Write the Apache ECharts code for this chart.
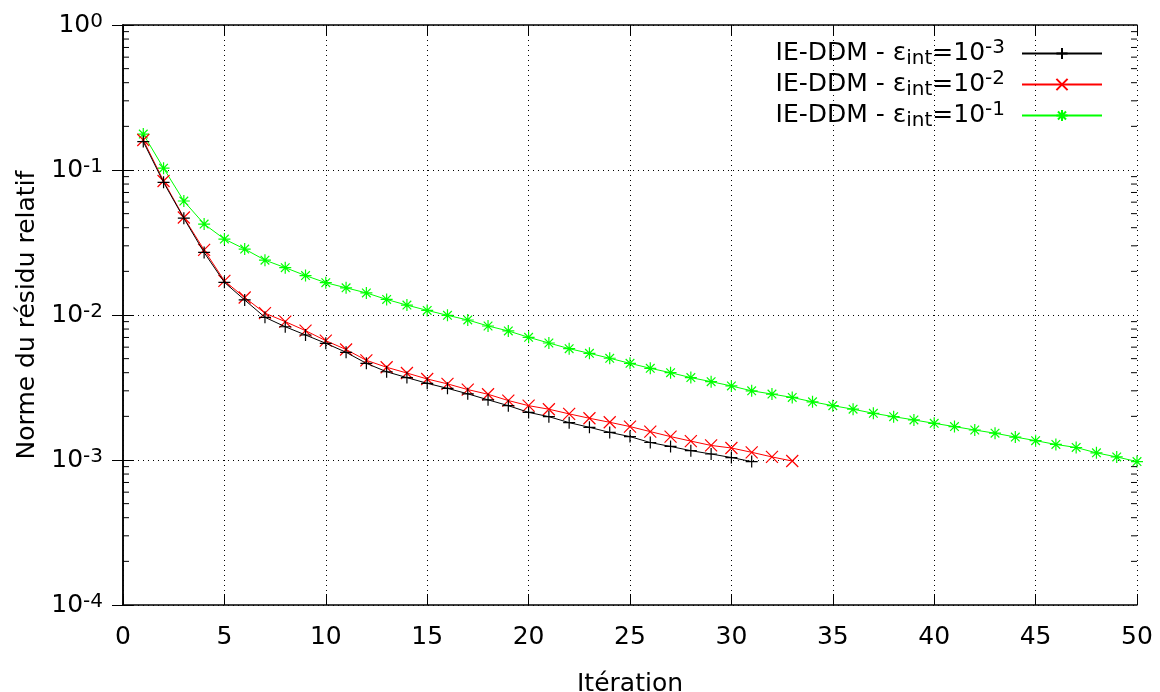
<!DOCTYPE html>
<html>
<head>
<meta charset="utf-8">
<script src="https://cdn.jsdelivr.net/npm/echarts@6/dist/echarts.min.js"></script>
<style>
html,body{margin:0;padding:0;background:#fff;}
#chart{width:1160px;height:692px;}
</style>
</head>
<body>
<div id="chart"></div>
<script>
// ---- data ----
const seriesNames = ['eps3', 'eps2', 'eps1'];
const seriesExp = ['-3', '-2', '-1'];
const seriesColors = ['#000000', '#ff0000', '#00ff00'];

const resEps3 = [0.157, 0.0822, 0.0465, 0.0270, 0.0168, 0.0127, 0.00964, 0.0083, 0.00728, 0.00638,
  0.00553, 0.00464, 0.00406, 0.0037, 0.00338, 0.00312, 0.00286, 0.00260, 0.00237, 0.00213,
  0.00199, 0.00181, 0.00168, 0.00155, 0.00145, 0.00132, 0.00124, 0.00116, 0.0011, 0.00104, 0.000975];

const resEps2 = [0.161, 0.084, 0.0470, 0.0281, 0.0172, 0.0132, 0.0103, 0.0090, 0.0078, 0.00665,
  0.00578, 0.00487, 0.00436, 0.00398, 0.00362, 0.00335, 0.00306, 0.00284, 0.00257, 0.00237,
  0.00224, 0.00208, 0.00194, 0.00182, 0.0017, 0.00157, 0.00145, 0.00135, 0.00126, 0.00121,
  0.00113, 0.00105, 0.000984];

const resEps1 = [0.177, 0.103, 0.0611, 0.0424, 0.0334, 0.0285, 0.0239, 0.0212, 0.0187, 0.0167,
  0.0154, 0.0142, 0.0128, 0.0117, 0.01076, 0.00995, 0.00924, 0.0084, 0.00776, 0.00702,
  0.00641, 0.00586, 0.00544, 0.00503, 0.00464, 0.00429, 0.0040, 0.0037, 0.00347, 0.00324,
  0.0030, 0.00285, 0.0027, 0.00252, 0.00237, 0.00224, 0.0021, 0.00199, 0.00189, 0.00179,
  0.0017, 0.00161, 0.00153, 0.00144, 0.00136, 0.00128, 0.00122, 0.00112, 0.00105, 0.000975];

const xTicks = [0, 5, 10, 15, 20, 25, 30, 35, 40, 45, 50];
const yDecades = [-4, -3, -2, -1, 0];
const minorMultipliers = [2, 3, 4, 5, 6, 7, 8, 9];

const xTitle = 'Itération';
const yTitle = 'Norme du résidu relatif';
// ---- end data ----

const FONT = 'DejaVu Sans';
const symPlus = 'path://M0,-1L0,1M-1,0L1,0';
const symCross = 'path://M-1,-1L1,1M-1,1L1,-1';
const symStar = 'path://M0,-1L0,1M-1,0L1,0M-0.72,-0.72L0.72,0.72M-0.72,0.72L0.72,-0.72';
const symbols = [symPlus, symCross, symStar];
const allData = [resEps3, resEps2, resEps1];

const minorTicks = [];
yDecades.slice(0, -1).forEach(d => minorMultipliers.forEach(m => minorTicks.push([0, m * Math.pow(10, d)])));

const xMin = xTicks[0], xMax = xTicks[xTicks.length - 1];
const yMin = Math.pow(10, yDecades[0]), yMax = Math.pow(10, yDecades[yDecades.length - 1]);

const chart = echarts.init(document.getElementById('chart'), null, {renderer: 'canvas'});

const axisLineStyle = {show: true, lineStyle: {color: '#000', width: 1.5}};
const yRich = {
  b: {fontFamily: FONT, fontSize: 25, color: '#000', lineHeight: 30},
  s: {fontFamily: FONT, fontSize: 20, color: '#000', lineHeight: 22, verticalAlign: 'top', padding: [2, 0, 0, 0]}
};

const series = allData.map((arr, i) => ({
  name: seriesNames[i],
  type: 'line',
  data: arr.map((v, k) => [k + 1, v]),
  xAxisIndex: 0, yAxisIndex: 0,
  symbol: symbols[i],
  symbolSize: 12,
  showAllSymbol: true,
  lineStyle: {color: seriesColors[i], width: 1},
  itemStyle: {color: seriesColors[i], borderColor: seriesColors[i], borderWidth: 1.2},
  emphasis: {disabled: true},
  z: 3 + (2 - i)
}));

series.push({
  type: 'custom',
  name: 'minor',
  xAxisIndex: 0, yAxisIndex: 0,
  silent: true,
  z: 5,
  data: minorTicks,
  renderItem: function (params, api) {
    const v = api.value(1);
    const pL = api.coord([xMin, v]);
    const pR = api.coord([xMax, v]);
    return {
      type: 'group',
      children: [
        {type: 'line', shape: {x1: pL[0], y1: pL[1], x2: pL[0] + 6, y2: pL[1]}, style: {stroke: '#000', lineWidth: 1}},
        {type: 'line', shape: {x1: pR[0] - 6, y1: pR[1], x2: pR[0], y2: pR[1]}, style: {stroke: '#000', lineWidth: 1}}
      ]
    };
  }
});

const option = {
  animation: false,
  backgroundColor: '#fff',
  textStyle: {fontFamily: FONT},
  grid: {left: 123, right: 23, top: 25, bottom: 87, containLabel: false, outerBoundsMode: 'none'},
  legend: {
    data: seriesNames,
    orient: 'vertical',
    right: 52,
    top: 33,
    align: 'right',
    itemWidth: 80,
    itemHeight: 14,
    itemGap: 0,
    selectedMode: false,
    formatter: function (name) {
      const i = seriesNames.indexOf(name);
      return '{n|IE-DDM - ε}{sub|int}{n|=10}{sup|' + seriesExp[i] + '}{g|}';
    },
    textStyle: {
      rich: {
        n: {fontFamily: FONT, fontSize: 25, color: '#000', lineHeight: 31},
        sub: {fontFamily: FONT, fontSize: 20, color: '#000', lineHeight: 20, verticalAlign: 'bottom'},
        sup: {fontFamily: FONT, fontSize: 20, color: '#000', lineHeight: 22, verticalAlign: 'top'},
        g: {width: 12}
      }
    }
  },
  xAxis: [{
    type: 'value', min: xMin, max: xMax, interval: 5, position: 'bottom',
    name: xTitle, nameLocation: 'middle', nameGap: 67,
    nameTextStyle: {fontFamily: FONT, fontSize: 25, color: '#000'},
    axisLine: axisLineStyle,
    axisTick: {show: true, inside: true, length: 11, lineStyle: {color: '#000', width: 1}},
    axisLabel: {fontFamily: FONT, fontSize: 25, color: '#000', margin: 20},
    splitLine: {show: true, lineStyle: {color: '#000', width: 1, type: [1, 4]}}
  }, {
    type: 'value', min: xMin, max: xMax, interval: 5, position: 'top',
    axisLine: axisLineStyle,
    axisTick: {show: true, inside: true, length: 11, lineStyle: {color: '#000', width: 1}},
    axisLabel: {show: false},
    splitLine: {show: false}
  }],
  yAxis: [{
    type: 'log', logBase: 10, min: yMin, max: yMax, position: 'left',
    name: yTitle, nameLocation: 'middle', nameGap: 81, nameRotate: 90,
    nameTextStyle: {fontFamily: FONT, fontSize: 25, color: '#000'},
    axisLine: axisLineStyle,
    axisTick: {show: true, inside: true, length: 11, lineStyle: {color: '#000', width: 1}},
    axisLabel: {
      margin: 20,
      formatter: function (v) {
        const e = Math.round(Math.log10(v));
        return '{b|10}{s|' + e + '}';
      },
      rich: yRich
    },
    splitLine: {show: true, lineStyle: {color: '#000', width: 1, type: [1, 4]}}
  }, {
    type: 'log', logBase: 10, min: yMin, max: yMax, position: 'right',
    axisLine: axisLineStyle,
    axisTick: {show: true, inside: true, length: 11, lineStyle: {color: '#000', width: 1}},
    axisLabel: {show: false},
    splitLine: {show: false}
  }],
  series: series
};

chart.setOption(option);
</script>
</body>
</html>
